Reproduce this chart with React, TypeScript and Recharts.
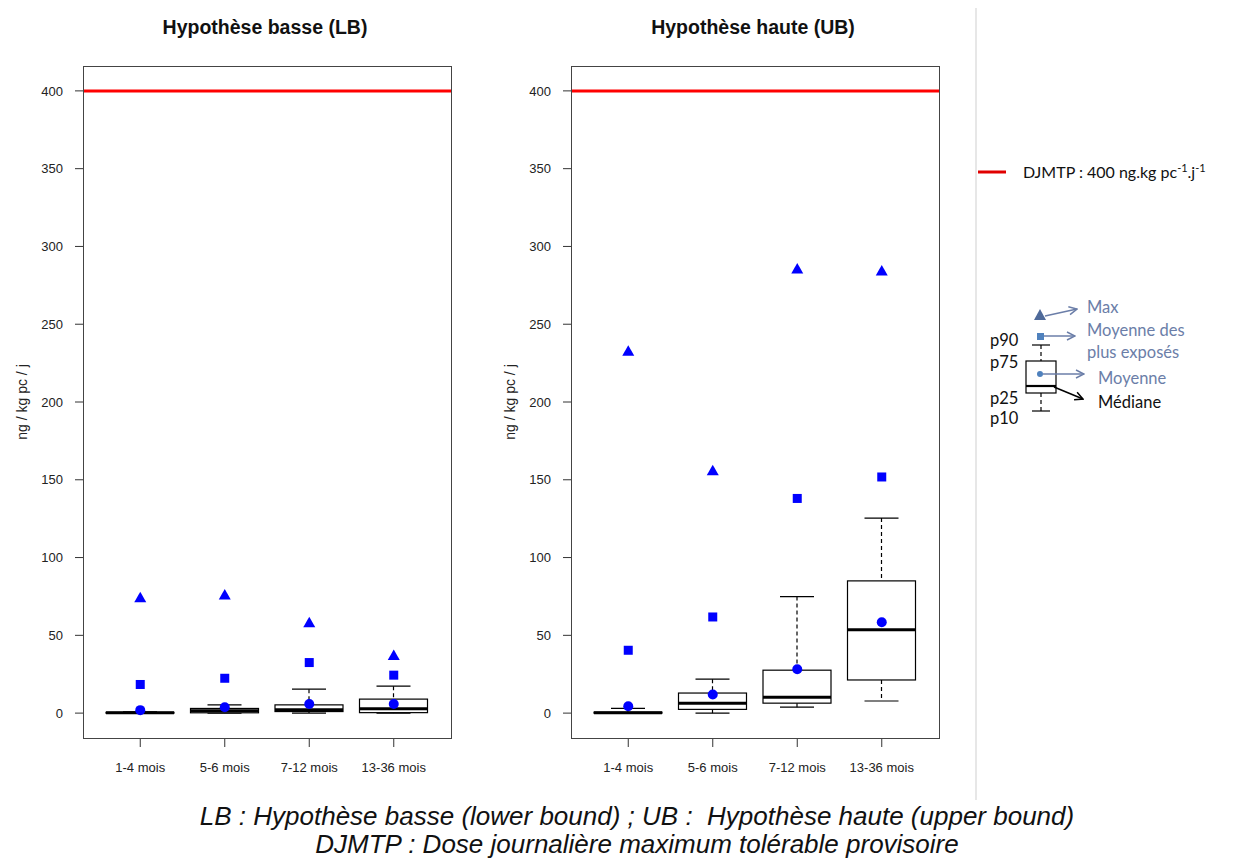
import { ComposedChart, Bar, Scatter, XAxis, YAxis, ReferenceLine } from 'recharts'

const categories = ['1-4 mois', '5-6 mois', '7-12 mois', '13-36 mois']
const yTicks = [0, 50, 100, 150, 200, 250, 300, 350, 400]
const djmtp = 400

// Hypothèse basse (LB)
const lbP10 = [0, 0, 0, 0]
const lbP25 = [0, 0.2, 1, 0.3]
const lbMedian = [0.2, 1.5, 2.1, 2.8]
const lbP75 = [0.5, 3, 5.3, 9]
const lbP90 = [0.8, 5.3, 15.4, 17.3]
const lbMean = [1.9, 3.8, 5.9, 5.9]
const lbMeanTop = [18.4, 22.4, 32.5, 24.4]
const lbMax = [74.2, 75.9, 58.1, 37]

// Hypothèse haute (UB)
const ubP10 = [0, 0, 3.8, 7.8]
const ubP25 = [0, 2.4, 6.4, 21.3]
const ubMedian = [0.2, 6.4, 10.2, 53.6]
const ubP75 = [0.6, 12.9, 27.6, 85]
const ubP90 = [3.1, 21.8, 74.9, 125.4]
const ubMean = [4.4, 12, 28.2, 58.4]
const ubMeanTop = [40.4, 61.8, 138, 151.8]
const ubMax = [232.7, 155.8, 285.5, 284.2]

type Row = {
  name: string
  p10: number
  p25: number
  median: number
  p75: number
  p90: number
  mean: number
  meanTop: number
  max: number
}

const buildRows = (
  p10: number[], p25: number[], median: number[], p75: number[],
  p90: number[], mean: number[], meanTop: number[], max: number[],
): Row[] =>
  categories.map((name, i) => ({
    name,
    p10: p10[i],
    p25: p25[i],
    median: median[i],
    p75: p75[i],
    p90: p90[i],
    mean: mean[i],
    meanTop: meanTop[i],
    max: max[i],
  }))

const lbRows = buildRows(lbP10, lbP25, lbMedian, lbP75, lbP90, lbMean, lbMeanTop, lbMax)
const ubRows = buildRows(ubP10, ubP25, ubMedian, ubP75, ubP90, ubMean, ubMeanTop, ubMax)

const FONT = '"Liberation Sans", Arial, sans-serif'
const BLUE = '#0000ff'

// floating bar spans p10..p90, the rest is placed on the same linear scale
const BoxShape = (props: any) => {
  const { x, y, width, height, payload } = props
  const { p10, p25, median, p75, p90 } = payload as Row
  const top = Math.min(y, y + height)
  const bottom = Math.max(y, y + height)
  const span = p90 - p10 || 1
  const toY = (v: number) => bottom - ((bottom - top) * (v - p10)) / span
  const cx = x + width / 2
  const capHalf = width / 4
  return (
    <g>
      <line x1={cx} x2={cx} y1={toY(p90)} y2={toY(p75)} stroke="#000" strokeWidth={1.2} strokeDasharray="4 3" />
      <line x1={cx} x2={cx} y1={toY(p25)} y2={toY(p10)} stroke="#000" strokeWidth={1.2} strokeDasharray="4 3" />
      <line x1={cx - capHalf} x2={cx + capHalf} y1={toY(p90)} y2={toY(p90)} stroke="#000" strokeWidth={1.2} />
      <line x1={cx - capHalf} x2={cx + capHalf} y1={toY(p10)} y2={toY(p10)} stroke="#000" strokeWidth={1.2} />
      <rect x={x} y={toY(p75)} width={width} height={Math.max(toY(p25) - toY(p75), 0)} fill="#fff" stroke="#000" strokeWidth={1.2} />
      <line x1={x} x2={x + width} y1={toY(median)} y2={toY(median)} stroke="#000" strokeWidth={3} />
    </g>
  )
}

const Dot = (p: any) => <circle cx={p.cx} cy={p.cy} r={5} fill={BLUE} />
const Square = (p: any) => <rect x={p.cx - 4.5} y={p.cy - 4.5} width={9} height={9} fill={BLUE} />
const Triangle = (p: any) => (
  <polygon points={`${p.cx},${p.cy - 6} ${p.cx - 6},${p.cy + 4.5} ${p.cx + 6},${p.cy + 4.5}`} fill={BLUE} />
)

function Panel({ rows, left, title }: { rows: Row[]; left: number; title: string }) {
  return (
    <div style={{ position: 'absolute', left, top: 0, width: 470, height: 800 }}>
      <div style={{
        position: 'absolute', left: 0, width: 530, top: 16, textAlign: 'center',
        fontFamily: FONT, fontWeight: 'bold', fontSize: 19.5, color: '#111',
      }}>
        {title}
      </div>
      <div style={{
        position: 'absolute', left: 22, top: 402, transform: 'translate(-50%, -50%) rotate(-90deg)',
        fontFamily: FONT, fontSize: 14, color: '#222', whiteSpace: 'nowrap',
      }}>
        ng / kg pc / j
      </div>
      <ComposedChart width={470} height={800} data={rows} margin={{ top: 66, right: 19, bottom: 0, left: 23 }}>
        <XAxis
          dataKey="name"
          type="category"
          padding={{ left: 15, right: 15 }}
          axisLine={false}
          tickSize={9}
          tickMargin={16}
          height={62}
          tickLine={{ stroke: '#333' }}
          tick={{ fill: '#222', fontSize: 13, fontFamily: FONT }}
        />
        <YAxis
          type="number"
          domain={[-16, 416]}
          ticks={yTicks}
          allowDataOverflow
          axisLine={false}
          tickSize={8}
          tickMargin={12}
          width={60}
          tickLine={{ stroke: '#333' }}
          tick={{ fill: '#222', fontSize: 13, fontFamily: FONT }}
        />
        <ReferenceLine y={djmtp} stroke="#ff0000" strokeWidth={3} />
        <Bar dataKey={(d: Row) => [d.p10, d.p90]} barSize={68} shape={<BoxShape />} isAnimationActive={false} />
        <Scatter dataKey="max" shape={<Triangle />} isAnimationActive={false} />
        <Scatter dataKey="meanTop" shape={<Square />} isAnimationActive={false} />
        <Scatter dataKey="mean" shape={<Dot />} isAnimationActive={false} />
      </ComposedChart>
      <div style={{
        position: 'absolute', left: 83, top: 66, width: 369, height: 673,
        border: '1px solid #444', boxSizing: 'border-box', pointerEvents: 'none',
      }} />
    </div>
  )
}

const LEG = '#6b7ea8'

function Legend() {
  return (
    <svg width={1234} height={860} style={{ position: 'absolute', left: 0, top: 0, pointerEvents: 'none' }}>
      <defs>
        <marker id="arrBlue" markerWidth="10" markerHeight="10" refX="9" refY="5" orient="auto" markerUnits="userSpaceOnUse">
          <path d="M1,1 L9,5 L1,9" fill="none" stroke={LEG} strokeWidth={1.5} />
        </marker>
        <marker id="arrBlack" markerWidth="10" markerHeight="10" refX="9" refY="5" orient="auto" markerUnits="userSpaceOnUse">
          <path d="M1,1 L9,5 L1,9" fill="none" stroke="#000" strokeWidth={1.5} />
        </marker>
      </defs>
      <line x1={976} x2={976} y1={8} y2={800} stroke="#cfcfcf" strokeWidth={1} />
      <line x1={978} x2={1006} y1={172} y2={172} stroke="#e00000" strokeWidth={3} />
      <text x={1023} y={178} fontFamily="Lato, sans-serif" fontSize={16} fill="#111">
        DJMTP : 400 ng.kg pc<tspan dy={-6} fontSize={11}>-1</tspan>
        <tspan dy={6}>.j</tspan><tspan dy={-6} fontSize={11}>-1</tspan>
      </text>

      <g fontFamily="Lato, sans-serif" fontSize={16.5}>
        <polygon points="1040,309 1034,320 1046,320" fill="#4f6a9a" />
        <line x1={1045} y1={316} x2={1077} y2={309} stroke={LEG} strokeWidth={1.5} markerEnd="url(#arrBlue)" />
        <text x={1087} y={313} fill={LEG}>Max</text>

        <rect x={1037} y={333} width={7} height={7} fill="#4f81bd" />
        <line x1={1044} y1={336} x2={1075} y2={336} stroke={LEG} strokeWidth={1.5} markerEnd="url(#arrBlue)" />
        <text x={1087} y={336} fill={LEG}>Moyenne des</text>
        <text x={1087} y={358} fill={LEG}>plus exposés</text>

        <text x={990} y={346} fill="#111">p90</text>
        <text x={990} y={368} fill="#111">p75</text>
        <text x={990} y={404} fill="#111">p25</text>
        <text x={990} y={424} fill="#111">p10</text>

        <line x1={1032} x2={1050} y1={345} y2={345} stroke="#000" strokeWidth={1.2} />
        <line x1={1041} x2={1041} y1={345} y2={361} stroke="#000" strokeWidth={1.2} strokeDasharray="4 3" />
        <rect x={1026} y={361} width={30} height={32} fill="#fff" stroke="#000" strokeWidth={1.2} />
        <line x1={1026} x2={1056} y1={386} y2={386} stroke="#000" strokeWidth={2.2} />
        <line x1={1041} x2={1041} y1={393} y2={411} stroke="#000" strokeWidth={1.2} strokeDasharray="4 3" />
        <line x1={1032} x2={1050} y1={411} y2={411} stroke="#000" strokeWidth={1.2} />

        <circle cx={1040} cy={374} r={3} fill="#4f81bd" />
        <line x1={1043} y1={374} x2={1084} y2={374} stroke={LEG} strokeWidth={1.5} markerEnd="url(#arrBlue)" />
        <text x={1098} y={384} fill={LEG}>Moyenne</text>

        <line x1={1054} y1={387} x2={1083} y2={399} stroke="#000" strokeWidth={1.5} markerEnd="url(#arrBlack)" />
        <text x={1098} y={408} fill="#111">Médiane</text>
      </g>
    </svg>
  )
}

export default function App() {
  return (
    <div style={{ position: 'absolute', left: 0, top: 0, width: 1234, height: 860, background: '#fff', overflow: 'hidden' }}>
      <Panel rows={lbRows} left={0} title="Hypothèse basse (LB)" />
      <Panel rows={ubRows} left={488} title="Hypothèse haute (UB)" />
      <Legend />
      <div style={{
        position: 'absolute', left: 0, width: 1274, top: 802, textAlign: 'center',
        fontFamily: FONT, fontStyle: 'italic', fontSize: 26, lineHeight: '28px', color: '#111',
      }}>
        <div>LB : Hypothèse basse (lower bound) ; UB :&nbsp; Hypothèse haute (upper bound)</div>
        <div>DJMTP : Dose journalière maximum tolérable provisoire</div>
      </div>
    </div>
  )
}
